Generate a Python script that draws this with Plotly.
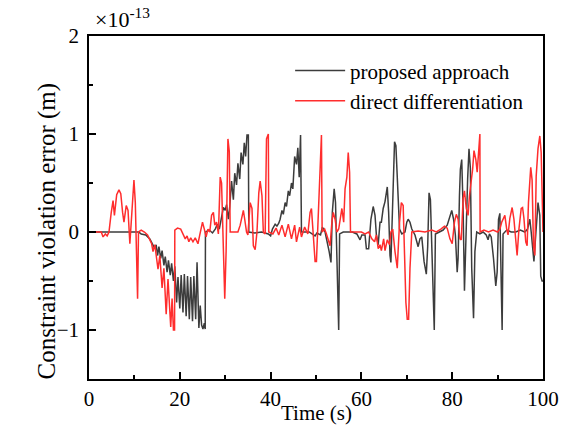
import plotly.graph_objects as go

# Constraint violation error, in units of 1e-13 m
t_proposed = [
    0, 10.9, 11.5, 12.5, 13.4, 14.0, 14.5, 14.8, 15.1, 15.4, 15.8, 16.1, 16.5, 16.8, 17.2, 17.5,
    17.9, 18.2, 18.6, 18.9, 19.3, 19.6, 20.0, 20.3, 20.7, 21.0, 21.4, 21.7, 22.1, 22.4, 22.8, 23.1,
    23.5, 23.8, 24.2, 24.5, 24.8, 25.1, 25.4, 25.6, 25.65, 26.5, 27.2, 27.8, 28.3, 28.7, 29.2, 29.6,
    30.0, 30.3, 30.7, 31.0, 31.4, 31.8, 32.1, 32.5, 32.8, 33.2, 33.5, 33.9, 34.2, 34.5, 34.8, 35.1,
    35.2, 36.5, 38.0, 39.5, 40.0, 40.4, 41.0, 41.4, 41.8, 42.1, 42.5, 42.8, 43.2, 43.5, 43.9, 44.2,
    44.6, 44.9, 45.3, 45.7, 46.0, 46.3, 46.6, 46.8, 48.5, 49.8, 50.2, 51.0, 51.4, 51.7, 52.0, 52.9,
    53.3, 53.6, 54.0, 54.3, 54.6, 55.0, 55.2, 56.0, 58.0, 59.0, 59.7, 60.1, 60.8, 61.1, 61.6, 62.1,
    62.6, 63.0, 63.3, 63.7, 64.1, 64.4, 64.8, 65.2, 65.7, 66.0, 66.3, 66.5, 66.7, 67.0, 67.3, 67.6,
    67.9, 68.4, 68.9, 69.6, 70.0, 70.3, 70.7, 71.1, 71.8, 72.5, 72.9, 73.3, 73.8, 74.3, 74.6, 74.9,
    75.2, 75.5, 75.8, 76.05, 76.3, 77.0, 78.0, 78.9, 79.5, 79.9, 80.3, 80.7, 81.1, 81.3, 81.6, 81.8,
    82.1, 82.4, 82.7, 83.0, 83.4, 83.7, 84.0, 84.3, 84.7, 85.0, 85.4, 86.1, 86.8, 87.5, 87.9, 88.2,
    88.6, 89.1, 89.6, 89.9, 90.2, 90.5, 90.7, 91.0, 91.2, 92.0, 93.0, 94.0, 95.0, 96.0, 96.6, 97.1,
    97.4, 97.7, 98.0, 98.4, 98.9, 99.3, 99.5, 99.8, 100,
]
err_proposed = [
    0, 0, -0.02, -0.03, -0.07, -0.12, -0.17, -0.13, -0.24, -0.15, -0.27, -0.19, -0.34, -0.25, -0.41, -0.29,
    -0.44, -0.32, -0.50, -0.35, -0.72, -0.46, -0.78, -0.44, -0.82, -0.43, -0.86, -0.45, -0.89, -0.46, -0.91, -0.45,
    -0.89, -0.31, -0.98, -0.75, -0.95, -0.99, -0.93, -0.99, 0.0, 0.02, -0.01, 0.03, 0.08, 0.03, 0.17, 0.25,
    0.22, 0.28, 0.13, 0.26, 0.52, 0.33, 0.60, 0.48, 0.70, 0.54, 0.81, 0.69, 0.91, 0.77, 0.99, 0.99,
    0.0, -0.01, 0.0, -0.02, -0.04, 0.03, 0.08, 0.06, 0.09, 0.13, 0.22, 0.18, 0.30, 0.26, 0.42, 0.37,
    0.50, 0.44, 0.77, 0.69, 0.86, 0.56, 0.99, 0.0, 0.0, -0.04, -0.01, -0.03, 0.05, 0.03, 0.0, -0.2,
    -0.31, 0.2, 0.44, 0.3, -0.27, -1.0, -0.02, 0.0, 0.0, -0.02, -0.08, -0.03, -0.03, -0.17, -0.17, 0.13,
    0.26, 0.17, -0.03, -0.13, 0.10, 0.10, 0.24, 0.31, 0.46, 0.20, -0.24, -0.31, 0.0, 0.54, 0.92, 0.88,
    0.48, 0.03, -0.02, 0.0, 0.1, 0.13, 0.1, 0.03, -0.03, -0.15, -0.07, -0.05, -0.3, -0.43, -0.15, 0.4,
    0.33, -0.2, -0.68, -1.0, -0.02, 0.0, 0.02, 0.07, 0.15, 0.22, 0.13, -0.03, -0.41, -0.27, 0.37, 0.64,
    0.74, 0.24, -0.6, -0.03, 0.54, 0.85, 0.65, -0.37, -0.88, -0.2, 0.0, -0.02, 0.0, -0.03, -0.08, -0.02,
    -0.05, -0.27, -0.55, -0.41, 0.13, 0.19, -0.2, -1.0, -0.02, 0.02, 0.0, 0.0, 0.02, 0.0, 0.03, 0.13,
    0.0, -0.17, -0.3, -0.03, 0.3, 0.17, -0.45, -0.5, -0.5,
]

t_direct = [
    0, 2.7, 3.1, 3.6, 4.0, 4.4, 4.9, 5.3, 5.6, 6.1, 6.6, 7.0, 7.4, 7.7, 8.2, 8.6,
    9.0, 9.3, 9.9, 10.2, 10.5, 10.7, 10.9, 11.5, 12.2, 12.9, 13.4, 13.8, 14.1, 14.5, 15.2, 15.6,
    16.1, 16.5, 17.0, 17.4, 18.0, 18.3, 18.6, 18.85, 18.9, 19.5, 20.2, 20.7, 21.2, 21.6, 22.0, 22.4,
    22.9, 23.4, 24.0, 24.4, 24.7, 25.0, 25.4, 25.8, 26.2, 26.6, 27.0, 27.4, 27.7, 28.1, 28.5, 28.9,
    29.2, 29.6, 29.9, 30.2, 30.6, 30.9, 31.1, 32.0, 32.8, 33.3, 34.0, 34.3, 34.7, 35.0, 35.5, 35.9,
    36.2, 36.6, 37.0, 37.4, 37.7, 38.1, 38.4, 38.8, 39.1, 39.5, 39.6, 40.5, 41.2, 41.8, 42.5, 43.2,
    43.9, 44.6, 45.3, 45.7, 46.4, 46.8, 47.5, 48.2, 48.7, 49.0, 49.5, 49.8, 50.1, 50.5, 50.9, 51.2,
    51.35, 51.9, 52.3, 52.7, 53.1, 53.5, 53.8, 54.2, 54.6, 55.0, 55.4, 55.7, 56.1, 56.4, 56.8, 57.1,
    57.4, 57.6, 58.5, 60.0, 60.8, 61.6, 62.3, 62.9, 63.3, 63.7, 64.1, 64.4, 64.9, 65.2, 65.7, 66.2,
    66.5, 66.9, 67.4, 67.9, 68.4, 68.8, 69.2, 69.5, 69.8, 70.1, 70.4, 70.7, 71.1, 72.5, 74.0, 75.5,
    76.5, 77.5, 78.3, 78.9, 79.5, 80.0, 80.5, 80.9, 81.3, 81.7, 82.0, 82.4, 82.7, 83.1, 83.5, 83.8,
    84.1, 84.5, 84.8, 85.2, 85.5, 85.8, 86.1, 86.15, 87.0, 88.0, 89.0, 90.0, 90.5, 90.9, 91.2, 91.6,
    92.0, 92.3, 92.7, 93.2, 93.6, 94.0, 94.3, 94.7, 95.2, 95.5, 95.8, 96.2, 96.5, 96.8, 97.3, 97.6,
    97.9, 98.2, 98.5, 98.9, 99.3, 99.6, 99.9, 100,
]
err_direct = [
    0, 0, -0.05, -0.02, -0.04, 0.0, 0.2, 0.32, 0.17, 0.38, 0.43, 0.39, 0.2, 0.1, 0.27, 0.22,
    -0.12, 0.13, 0.53, 0.3, -0.3, -0.68, 0.0, 0.02, 0.0, -0.03, -0.08, -0.12, -0.2, -0.13, -0.38, -0.24,
    -0.57, -0.37, -0.84, -0.48, -0.97, -0.68, -1.0, -1.0, 0.02, 0.04, 0.03, -0.03, -0.07, -0.04, -0.1, -0.06,
    -0.1, -0.06, -0.12, -0.03, 0.05, 0.1, 0.03, -0.05, 0.03, 0.0, 0.17, 0.2, 0.07, 0.1, -0.02, 0.56,
    0.5, -0.2, -0.68, -0.2, 0.95, 0.82, 0.0, 0.0, 0.0, 0.07, 0.22, 0.13, 0.0, -0.03, 0.3, 0.24,
    -0.14, -0.18, 0.0, 0.4, 0.52, 0.37, 0.0, -0.02, 0.95, 1.0, 0.0, -0.02, 0.04, -0.03, 0.07, -0.05,
    0.08, -0.07, 0.07, -0.1, 0.05, -0.05, 0.05, -0.02, 0.2, 0.24, -0.07, -0.3, -0.3, 0.14, 0.75, 0.99,
    0.0, 0.03, -0.02, -0.07, -0.14, 0.1, 0.2, 0.13, 0.0, 0.03, 0.17, 0.24, 0.1, 0.44, 0.56, 0.81,
    0.61, 0.0, 0.0, 0.0, -0.02, 0.0, -0.07, -0.1, -0.03, -0.17, -0.13, -0.19, -0.07, -0.19, -0.08, -0.13,
    0.0, 0.03, -0.2, -0.37, 0.1, 0.3, 0.27, -0.2, -0.72, -0.89, -0.89, -0.37, 0.0, 0.01, 0.0, 0.02,
    0.0, 0.03, 0.06, 0.04, -0.07, -0.12, 0.1, 0.18, 0.13, -0.07, -0.08, 0.34, 0.42, 0.24, 0.17, 0.37,
    0.48, 0.64, 0.83, 0.74, 0.61, 0.85, 1.0, 0.0, 0.02, 0.0, 0.02, 0.0, 0.03, 0.1, 0.14, 0.17,
    0.03, -0.03, 0.14, 0.25, 0.13, -0.14, -0.24, 0.03, 0.24, 0.25, 0.14, -0.1, -0.14, 0.3, 0.66, 0.53,
    -0.14, -0.24, 0.57, 0.85, 0.98, 0.81, 0.0, 0.0,
]

x_ticks = [0, 20, 40, 60, 80, 100]
y_ticks = [-1, 0, 1, 2]

FONT = "Liberation Serif, Times New Roman, serif"

fig = go.Figure()
fig.add_trace(go.Scatter(x=t_proposed, y=err_proposed, mode="lines",
                         name="proposed approach",
                         line=dict(color="#3c3c3c", width=1.5)))
fig.add_trace(go.Scatter(x=t_direct, y=err_direct, mode="lines",
                         name="direct differentiation",
                         line=dict(color="#ff2d2d", width=1.5)))

axis_common = dict(
    showline=True, linecolor="black", linewidth=1.5, mirror=True,
    ticks="inside", ticklen=7, tickwidth=1.5, tickcolor="black",
    showgrid=False, zeroline=False, automargin=False,
    tickfont=dict(family=FONT, size=21, color="black"),
)

fig.update_xaxes(range=[0, 100], tickvals=x_ticks,
                 minor=dict(dtick=10, ticks="inside", ticklen=4, tickwidth=1.5, tickcolor="black"),
                 ticklabelstandoff=0, **axis_common)
fig.update_yaxes(range=[-1.5, 2], tickvals=y_ticks,
                 minor=dict(dtick=0.5, ticks="inside", ticklen=4, tickwidth=1.5, tickcolor="black"),
                 ticklabelstandoff=4, **axis_common)

fig.add_annotation(text="Time (s)", xref="paper", yref="paper", x=0.5, y=-0.099,
                   xanchor="center", yanchor="middle", showarrow=False,
                   font=dict(family=FONT, size=21, color="black"))
fig.add_annotation(text="Constraint violation error (m)", xref="paper", yref="paper",
                   x=-0.092, y=0.431, textangle=-90, xanchor="center", yanchor="middle",
                   showarrow=False, font=dict(family=FONT, size=25, color="black"))
fig.add_annotation(text="×10<sup>-13</sup>", xref="paper", yref="paper",
                   x=0.008, y=1.005, xanchor="left", yanchor="bottom", showarrow=False,
                   font=dict(family=FONT, size=22, color="black"))

fig.update_layout(
    width=562, height=425,
    margin=dict(l=89, r=19, t=36, b=46, autoexpand=False),
    plot_bgcolor="white", paper_bgcolor="white",
    showlegend=True,
    legend=dict(x=0.443, y=0.958, xanchor="left", yanchor="top",
                bgcolor="rgba(0,0,0,0)", borderwidth=0,
                font=dict(family=FONT, size=21, color="black"),
                itemwidth=50, tracegroupgap=0),
)

fig.write_html("out.html")
